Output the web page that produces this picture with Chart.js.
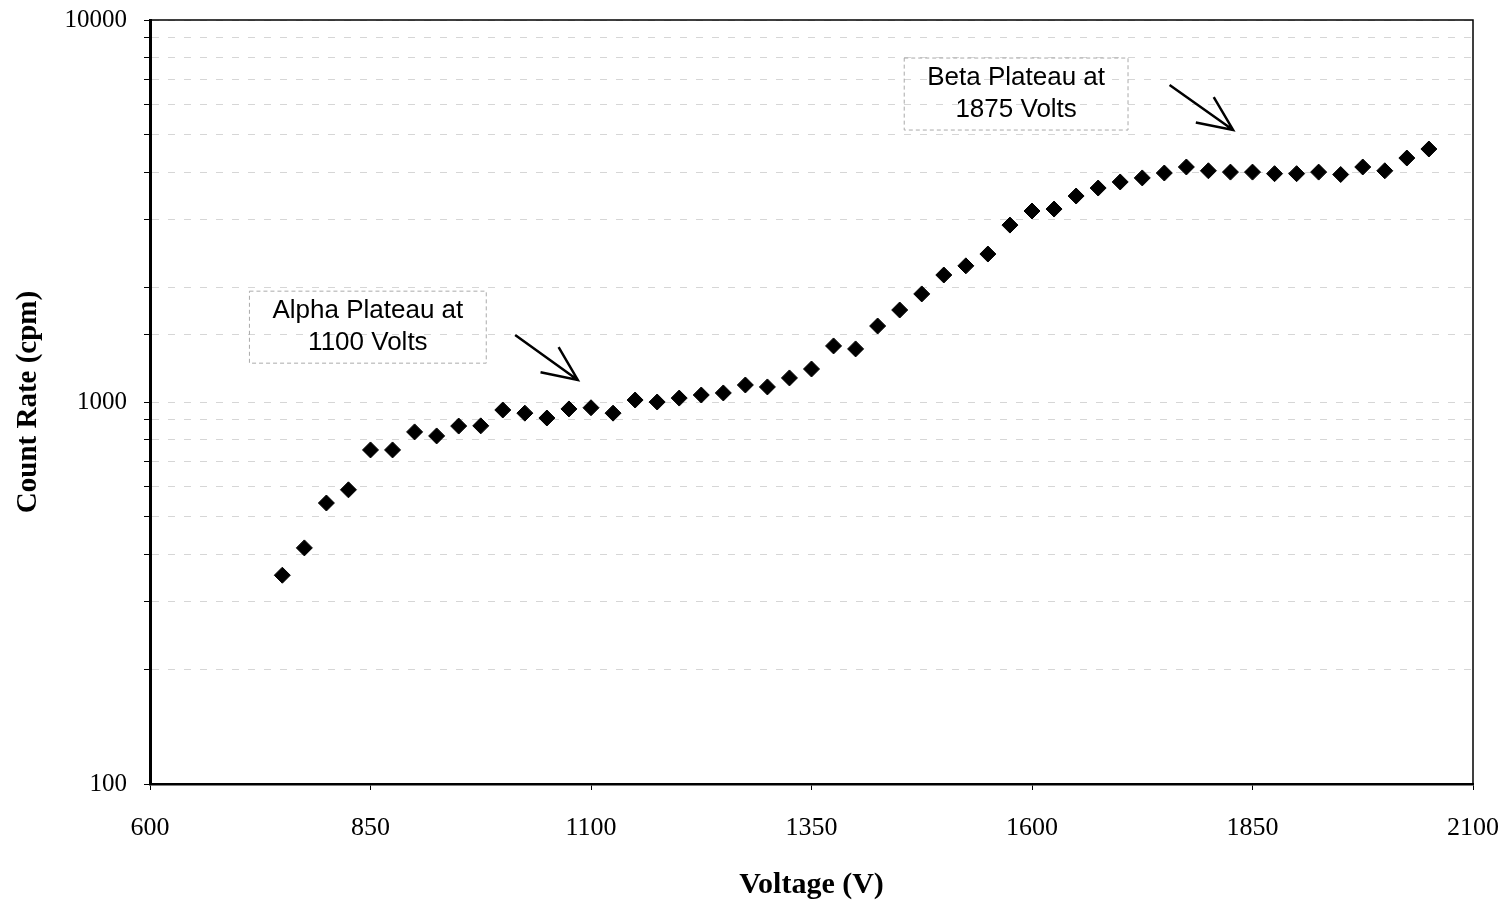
<!DOCTYPE html>
<html>
<head>
<meta charset="utf-8">
<title>Count Rate vs Voltage</title>
<script src="https://cdn.jsdelivr.net/npm/chart.js@4.4.1/dist/chart.umd.min.js"></script>
<style>
  html, body { margin: 0; padding: 0; background: #fff; }
  #wrap { width: 1507px; height: 907px; }
</style>
</head>
<body>
<div id="wrap"><canvas id="plot" width="1507" height="907"></canvas></div>
<script>
// Voltage steps (V)
const voltages = [
  750, 775, 800, 825, 850, 875, 900, 925, 950, 975,
  1000, 1025, 1050, 1075, 1100, 1125, 1150, 1175, 1200, 1225,
  1250, 1275, 1300, 1325, 1350, 1375, 1400, 1425, 1450, 1475,
  1500, 1525, 1550, 1575, 1600, 1625, 1650, 1675, 1700, 1725,
  1750, 1775, 1800, 1825, 1850, 1875, 1900, 1925, 1950, 1975,
  2000, 2025, 2050
];

// Count rate (cpm)
const countRates = [
  352, 415, 544, 589, 749, 749, 835, 815, 865, 866,
  953, 935, 908, 959, 966, 935, 1012, 1000, 1024, 1043,
  1056, 1108, 1095, 1156, 1220, 1402, 1377, 1581, 1741, 1918,
  2150, 2272, 2440, 2905, 3162, 3200, 3461, 3632, 3767, 3860,
  3976, 4123, 4030, 3998, 3998, 3960, 3960, 3998, 3940, 4123,
  4030, 4352, 4595
];

const xTicks = [600, 850, 1100, 1350, 1600, 1850, 2100];
const yLabels = [100, 1000, 10000];

// text boxes with arrows, in data units
const notes = [
  { lines: ['Alpha Plateau at', '1100 Volts'], x: 847, y: 1570, arrowFrom: [1014, 1497], arrowTo: [1085, 1142] },
  { lines: ['Beta Plateau at', '1875 Volts'], x: 1582, y: 6400, arrowFrom: [1756, 6760], arrowTo: [1828, 5155] }
];

const serif = "'Liberation Serif', 'Times New Roman', serif";
const sans = "'Liberation Sans', Arial, sans-serif";

// frame + annotation boxes and arrows
const notesPlugin = {
  id: 'notes',
  beforeDatasetsDraw(chart) {
    const { ctx, chartArea: a } = chart;
    ctx.save();
    ctx.strokeStyle = '#000';
    ctx.lineWidth = 1.5;
    ctx.strokeRect(a.left, a.top, a.right - a.left, a.bottom - a.top);
    ctx.restore();
  },
  afterDatasetsDraw(chart) {
    const { ctx, scales: { x, y } } = chart;
    ctx.save();
    ctx.font = '26px ' + sans;
    ctx.textAlign = 'center';
    ctx.textBaseline = 'middle';
    notes.forEach(n => {
      const cx = x.getPixelForValue(n.x);
      const cy = y.getPixelForValue(n.y);
      const w = Math.max(...n.lines.map(l => ctx.measureText(l).width)) + 46;
      const h = n.lines.length * 32 + 8;
      ctx.setLineDash([4, 3]);
      ctx.strokeStyle = '#aaa';
      ctx.lineWidth = 1;
      ctx.strokeRect(cx - w / 2, cy - h / 2, w, h);
      ctx.setLineDash([]);
      ctx.fillStyle = '#000';
      n.lines.forEach((l, i) => {
        ctx.fillText(l, cx, cy + (i - (n.lines.length - 1) / 2) * 32);
      });
      const x1 = x.getPixelForValue(n.arrowFrom[0]), y1 = y.getPixelForValue(n.arrowFrom[1]);
      const x2 = x.getPixelForValue(n.arrowTo[0]), y2 = y.getPixelForValue(n.arrowTo[1]);
      const ang = Math.atan2(y2 - y1, x2 - x1);
      ctx.strokeStyle = '#000';
      ctx.lineWidth = 2.5;
      ctx.beginPath();
      ctx.moveTo(x1, y1);
      ctx.lineTo(x2, y2);
      ctx.moveTo(x2 - 38 * Math.cos(ang - 0.42), y2 - 38 * Math.sin(ang - 0.42));
      ctx.lineTo(x2, y2);
      ctx.lineTo(x2 - 38 * Math.cos(ang + 0.42), y2 - 38 * Math.sin(ang + 0.42));
      ctx.stroke();
    });
    ctx.restore();
  }
};

new Chart(document.getElementById('plot'), {
  type: 'scatter',
  data: {
    datasets: [{
      label: 'Count Rate',
      data: voltages.map((v, i) => ({ x: v, y: countRates[i] })),
      pointStyle: 'rectRot',
      pointRadius: 8,
      pointHoverRadius: 8,
      backgroundColor: '#000',
      borderColor: '#000',
      borderWidth: 1,
      showLine: false
    }]
  },
  options: {
    responsive: false,
    animation: false,
    layout: { padding: { top: 20, right: 34, bottom: 0, left: 0 } },
    plugins: {
      legend: { display: false },
      tooltip: { enabled: false }
    },
    scales: {
      x: {
        type: 'linear',
        min: 600,
        max: 2100,
        afterBuildTicks: s => { s.ticks = xTicks.map(v => ({ value: v })); },
        afterFit: s => { s.height = 123; s.paddingLeft = 0; s.paddingRight = 0; },
        grid: { drawOnChartArea: false, color: '#000', tickLength: 6 },
        border: { color: '#000', width: 2.5 },
        ticks: {
          color: '#000',
          font: { family: serif, size: 26 },
          padding: 23,
          maxRotation: 0,
          callback: v => String(v)
        },
        title: {
          display: true,
          text: 'Voltage (V)',
          color: '#000',
          font: { family: serif, size: 30, weight: 'bold' },
          padding: { top: 0, bottom: 4 }
        }
      },
      y: {
        type: 'logarithmic',
        min: 100,
        max: 10000,
        afterFit: s => { s.width = 150; s.paddingTop = 0; s.paddingBottom = 0; },
        grid: { color: '#d6d6d6', lineWidth: 1, tickColor: '#000', tickLength: 6 },
        border: { color: '#000', width: 3, dash: [7, 9] },
        ticks: {
          color: '#000',
          font: { family: serif, size: 25 },
          padding: 17,
          autoSkip: false,
          callback: v => (yLabels.includes(v) ? String(v) : '')
        },
        title: {
          display: true,
          text: 'Count Rate (cpm)',
          color: '#000',
          font: { family: serif, size: 29, weight: 'bold' },
          padding: { top: 11, bottom: 0 }
        }
      }
    }
  },
  plugins: [notesPlugin]
});
</script>
</body>
</html>
